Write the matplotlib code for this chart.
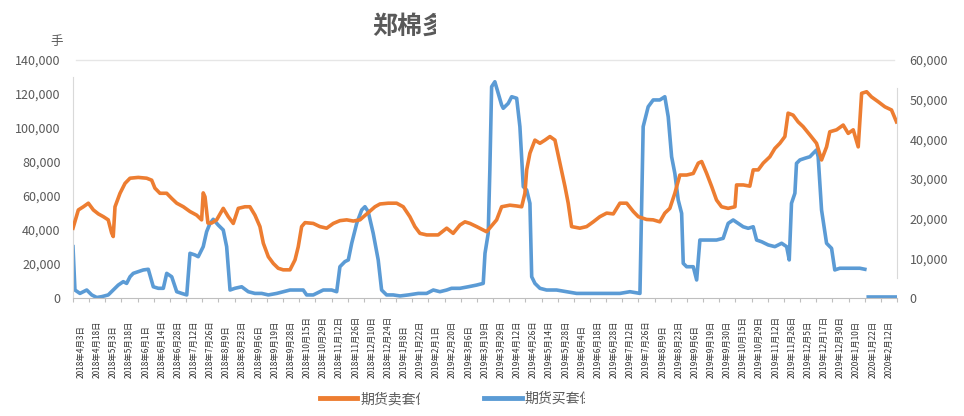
import matplotlib
matplotlib.use('Agg')
import matplotlib.pyplot as plt
import numpy as np
from matplotlib.transforms import Bbox, blended_transform_factory

plt.rcParams['font.family'] = ['Noto Sans CJK SC', 'DejaVu Sans']

# category labels (dates)
labels = ['2018年4月3日', '2018年4月18日', '2018年5月3日', '2018年5月18日', '2018年6月1日',
          '2018年6月14日', '2018年6月28日', '2018年7月12日', '2018年7月26日', '2018年8月9日',
          '2018年8月23日', '2018年9月6日', '2018年9月19日', '2018年9月28日', '2018年10月15日',
          '2018年10月29日', '2018年11月12日', '2018年11月26日', '2018年12月10日', '2018年12月24日',
          '2019年1月8日', '2019年1月22日', '2019年2月1日', '2019年2月20日', '2019年3月6日',
          '2019年3月19日', '2019年3月29日', '2019年4月12日', '2019年4月26日', '2019年5月14日',
          '2019年5月28日', '2019年6月4日', '2019年6月18日', '2019年6月28日', '2019年7月12日',
          '2019年7月26日', '2019年8月9日', '2019年8月23日', '2019年9月6日', '2019年9月19日',
          '2019年9月30日', '2019年10月15日', '2019年10月29日', '2019年11月12日', '2019年11月26日',
          '2019年12月5日', '2019年12月17日', '2019年12月30日', '2020年1月10日', '2020年1月22日',
          '2020年2月12日']

# 期货卖套 (right axis)
t_sell = [0.0, 0.33, 0.64, 0.95, 1.26, 1.57, 1.88, 2.18, 2.39, 2.49,
          2.6, 2.91, 3.22, 3.53, 4.04, 4.56, 4.87, 5.07, 5.38, 5.8,
          6.11, 6.42, 6.83, 7.24, 7.65, 7.96, 8.06, 8.17, 8.35, 8.58,
          8.89, 9.3, 9.61, 9.92, 10.23, 10.64, 10.95, 11.26, 11.57, 11.78,
          12.09, 12.4, 12.7, 13.01, 13.43, 13.74, 13.94, 14.15, 14.36, 14.87,
          15.28, 15.7, 16.11, 16.52, 16.94, 17.35, 17.76, 18.69, 19.0, 19.51,
          20.03, 20.44, 20.85, 21.16, 21.47, 21.89, 22.6, 23.13, 23.53, 23.95,
          24.26, 24.57, 24.98, 25.6, 26.22, 26.53, 27.04, 27.46, 27.77, 27.97,
          28.08, 28.28, 28.59, 28.9, 29.21, 29.52, 29.83, 30.14, 30.45, 30.65,
          30.86, 31.37, 31.79, 32.2, 32.61, 33.03, 33.44, 33.85, 34.27, 34.68,
          34.99, 35.5, 35.91, 36.32, 36.63, 36.94, 37.25, 37.56, 37.98, 38.39,
          38.7, 38.91, 39.22, 39.53, 39.83, 40.14, 40.55, 40.97, 41.07, 41.49,
          41.89, 42.1, 42.41, 42.72, 43.13, 43.44, 43.75, 44.06, 44.26, 44.57,
          44.88, 45.19, 45.61, 46.02, 46.33, 46.64, 46.84, 47.26, 47.67, 47.98,
          48.29, 48.6, 48.81, 49.12, 49.42, 49.83, 50.25, 50.66, 50.97]
sell = [17600, 22200, 23000, 23900, 22200, 21200, 20500, 19700, 16400, 15500,
        23000, 26400, 28900, 30200, 30400, 30200, 29700, 27700, 26400, 26400,
        25100, 23900, 23000, 21800, 20900, 19700, 26500, 25500, 18900, 18900,
        19700, 22600, 20500, 18800, 22600, 23000, 23000, 20900, 18000, 13800,
        10400, 8700, 7500, 7100, 7100, 9600, 12900, 18000, 19000, 18800,
        18000, 17600, 18800, 19500, 19700, 19400, 19700, 23000, 23700, 23900,
        23900, 23000, 20500, 18000, 16300, 15900, 15900, 17600, 16300, 18400,
        19200, 18800, 18000, 16700, 19700, 23000, 23400, 23200, 23000, 26400,
        32300, 36500, 39800, 39000, 39800, 40700, 39800, 34000, 28100, 23900,
        18000, 17600, 18000, 19200, 20500, 21400, 21200, 23900, 23900, 21800,
        20500, 19800, 19700, 19200, 21400, 22600, 26400, 31000, 31000, 31400,
        34000, 34400, 31400, 28100, 24700, 23000, 22600, 23000, 28500, 28500,
        28200, 32300, 32300, 34000, 35600, 37700, 39000, 40700, 46600, 46100,
        44400, 43200, 41100, 39000, 34800, 38100, 41900, 42400, 43600, 41500,
        42400, 38100, 51600, 52000, 50700, 49500, 48200, 47400, 44400]

# 期货买套 (left axis)
t_buy = [0.0, 0.12, 0.43, 0.85, 1.16, 1.47, 1.78, 2.18, 2.49, 2.8,
         3.11, 3.32, 3.53, 3.73, 4.04, 4.35, 4.66, 4.97, 5.28, 5.59,
         5.8, 6.11, 6.42, 6.73, 7.04, 7.24, 7.55, 7.75, 8.06, 8.27,
         8.48, 8.68, 8.99, 9.3, 9.51, 9.61, 9.72, 10.02, 10.44, 10.85,
         11.26, 11.68, 12.09, 12.61, 13.01, 13.43, 13.84, 14.25, 14.46, 14.87,
         15.49, 16.01, 16.32, 16.52, 16.83, 17.04, 17.25, 17.56, 17.87, 18.07,
         18.27, 18.58, 18.89, 19.1, 19.41, 19.82, 20.24, 20.75, 21.37, 21.89,
         22.3, 22.71, 23.13, 23.43, 23.95, 24.46, 24.98, 25.39, 25.5, 25.7,
         25.8, 25.91, 26.11, 26.32, 26.53, 26.63, 26.94, 27.15, 27.46, 27.66,
         27.87, 28.08, 28.28, 28.39, 28.59, 28.9, 29.31, 29.93, 30.55, 31.17,
         31.79, 32.41, 33.03, 33.85, 34.47, 35.09, 35.29, 35.6, 35.91, 36.32,
         36.63, 36.84, 37.05, 37.25, 37.46, 37.67, 37.77, 37.98, 38.39, 38.6,
         38.8, 39.0, 39.42, 39.83, 40.24, 40.55, 40.86, 41.17, 41.48, 41.79,
         42.1, 42.31, 42.62, 43.03, 43.44, 43.86, 44.17, 44.33, 44.47, 44.68,
         44.78, 44.99, 45.3, 45.61, 45.81, 46.02, 46.12, 46.33, 46.64, 46.95,
         47.15, 47.46, 47.88, 48.29, 48.7, 49.01, 49.1, 49.22, 50.97]
buy = [30200, 4700, 2700, 4700, 1800, 300, 800, 1800, 4700, 7600,
       9600, 8600, 12500, 14500, 15500, 16500, 16900, 6600, 5700, 5700,
       14500, 12500, 3700, 2700, 1800, 26300, 25300, 24300, 30200, 39000,
       43900, 46300, 42900, 40000, 30200, 18400, 4700, 5700, 6600, 3700,
       2700, 2700, 1800, 2700, 3700, 4700, 4700, 4700, 1800, 1800,
       4700, 4700, 3700, 18400, 21400, 22400, 32200, 43900, 51800, 53700,
       50800, 38100, 22400, 4700, 1800, 1800, 1200, 1800, 2700, 2700,
       4700, 3700, 4700, 5700, 5700, 6600, 7600, 8600, 26300, 38100,
       75300, 124300, 127200, 120400, 113500, 111600, 114500, 118400, 117500, 100800,
       65500, 63500, 55700, 12500, 8600, 5700, 4700, 4700, 3700, 2700,
       2700, 2700, 2700, 2700, 3700, 2700, 100800, 112500, 116500, 116500,
       118400, 106600, 83100, 73300, 57600, 49800, 20400, 18400, 18400, 10600,
       34100, 34100, 34100, 34100, 35100, 43900, 45900, 43900, 41900, 41000,
       41900, 34100, 33100, 31200, 30200, 32200, 30200, 22400, 55700, 61600,
       79200, 81200, 82200, 83100, 85100, 87100, 83100, 51800, 32200, 29200,
       16500, 17500, 17500, 17500, 17500, 16900, np.nan, 600, 600]

gray = '#595959'
orange = '#ED7D31'
blue = '#5B9BD5'

fig = plt.figure(figsize=(9.64, 4.16), dpi=100)
ax = fig.add_axes([73/964, 118/416, 824/964, 238/416])
ax2 = ax.twinx()

l_buy, = ax.plot(t_buy, buy, c=blue, lw=2.6, label='期货买套保值')
l_sell, = ax2.plot(t_sell, sell, c=orange, lw=2.6, label='期货卖套保值')

ax.set_xlim(0, len(labels))
ax.set_ylim(0, 140000)
ax2.set_ylim(0, 60000)
ax.set_yticks(np.arange(0, 140001, 20000))
ax2.set_yticks(np.arange(0, 60001, 10000))
ax.yaxis.set_major_formatter(lambda v, p: f'{int(v):,}')
ax2.yaxis.set_major_formatter(lambda v, p: f'{int(v):,}')
ax.tick_params(axis='y', length=0, pad=9, labelsize=9, labelcolor=gray)
ax2.tick_params(axis='y', length=0, pad=9, labelsize=9, labelcolor=gray)

ax.set_xticks(np.arange(0, len(labels) + 1))
ax.tick_params(axis='x', length=3, color='#bfbfbf', labelbottom=False)

ax.axhline(140000, xmin=0.004, xmax=0.996, color='#e6e6e6', lw=1, clip_on=False)

for s in ['top', 'right']:
    ax.spines[s].set_visible(False)
for s in ['top', 'left', 'bottom']:
    ax2.spines[s].set_visible(False)
ax.spines['bottom'].set_color('#bfbfbf')
ax.spines['left'].set_color('#d9d9d9')
ax.spines['left'].set_bounds(0, 130000)
ax2.spines['right'].set_color('#d9d9d9')
ax2.spines['right'].set_bounds(5000, 53000)

# x labels, bottom aligned
trans = blended_transform_factory(ax.transData, fig.transFigure)
for i, s in enumerate(labels):
    ax.text(i + 0.5, 38/416, s, transform=trans, rotation=90, ha='center', va='bottom',
            fontsize=6, color='#333333')

title = fig.text(372/964, 388/416, '郑棉多空套保持仓', fontsize=18, fontweight='bold',
                 color=gray, ha='left', va='center')
fig.text(57/964, 375/416, '手', fontsize=9, color=gray, ha='center', va='center')

leg = fig.legend(handles=[l_sell, l_buy], loc='center', bbox_to_anchor=(464/964, 17/416),
                 ncol=2, frameon=False, fontsize=10, handlelength=2.7, handletextpad=0.2,
                 columnspacing=2.95, labelcolor=gray)
for line in leg.get_lines():
    line.set_linewidth(3.5)

# the original is cut off on the right of the title and legend texts
fig.canvas.draw()
r = fig.canvas.get_renderer()
bb = title.get_window_extent(r)
title.set_clip_box(Bbox.from_extents(0, 0, bb.x0 + 64, 416))
title.set_clip_on(True)
for t in leg.get_texts():
    bb = t.get_window_extent(r)
    t.set_clip_box(Bbox.from_extents(0, 0, bb.x0 + 60, 416))
    t.set_clip_on(True)

fig.savefig('out.png', dpi=100)
